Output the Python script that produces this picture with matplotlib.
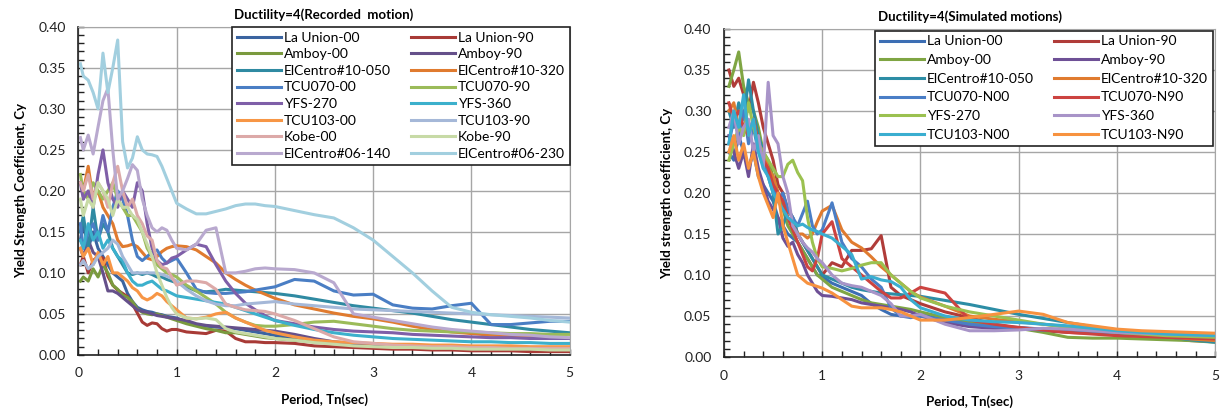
import matplotlib.pyplot as plt
from matplotlib.ticker import MultipleLocator, FormatStrFormatter

plt.rcParams['font.family'] = ['Lato', 'DejaVu Sans']

# periods (sec) for the recorded-motion curves
T_rec = [0.02, 0.05, 0.1, 0.15, 0.2, 0.25, 0.3, 0.35, 0.4, 0.45, 0.5, 0.55, 0.6, 0.65, 0.7,
         0.75, 0.8, 0.85, 0.9, 0.95, 1.0, 1.1, 1.2, 1.3, 1.4, 1.5, 1.6, 1.7, 1.8, 1.9, 2.0,
         2.2, 2.4, 2.6, 2.8, 3.0, 3.2, 3.4, 3.6, 3.8, 4.0, 4.2, 4.4, 4.6, 4.8, 5.0]

rec_names = ['La Union-00', 'La Union-90', 'Amboy-00', 'Amboy-90', 'ElCentro#10-050',
             'ElCentro#10-320', 'TCU070-00', 'TCU070-90', 'YFS-270', 'YFS-360',
             'TCU103-00', 'TCU103-90', 'Kobe-00', 'Kobe-90', 'ElCentro#06-140',
             'ElCentro#06-230']
rec_colors = ['#3B64A0', '#A83A36', '#7A9A3E', '#65508A', '#2F8AA2', '#E07B2F',
              '#4A7EC4', '#9BBB59', '#7F5FA8', '#3CB0CC', '#F79646', '#A5B8D8',
              '#DCA9A8', '#C7DAA6', '#B9A9CF', '#A2CFDF']

la_union_00 = [0.14, 0.16, 0.13, 0.15, 0.13, 0.12, 0.11, 0.10, 0.095, 0.09, 0.075, 0.065, 0.058, 0.055, 0.053,
               0.052, 0.05, 0.049, 0.047, 0.046, 0.045, 0.04, 0.037, 0.035, 0.034, 0.033, 0.032, 0.03, 0.028, 0.026, 0.024,
               0.02, 0.017, 0.015, 0.013, 0.012, 0.011, 0.011, 0.01, 0.01, 0.01, 0.009, 0.009, 0.009, 0.008, 0.008]
la_union_90 = [0.11, 0.12, 0.10, 0.115, 0.12, 0.118, 0.096, 0.085, 0.079, 0.075, 0.071, 0.062, 0.051, 0.04, 0.036,
               0.039, 0.038, 0.032, 0.029, 0.031, 0.031, 0.028, 0.027, 0.026, 0.03, 0.029, 0.02, 0.016, 0.016, 0.015, 0.015,
               0.014, 0.011, 0.01, 0.009, 0.008, 0.007, 0.007, 0.006, 0.006, 0.005, 0.005, 0.005, 0.004, 0.004, 0.004]
amboy_00 = [0.09, 0.095, 0.09, 0.105, 0.095, 0.11, 0.10, 0.085, 0.08, 0.073, 0.07, 0.065, 0.056, 0.052, 0.05,
            0.049, 0.05, 0.048, 0.046, 0.044, 0.042, 0.038, 0.035, 0.032, 0.03, 0.027, 0.027, 0.025, 0.023, 0.021, 0.02,
            0.018, 0.016, 0.014, 0.013, 0.012, 0.011, 0.011, 0.01, 0.01, 0.009, 0.009, 0.009, 0.008, 0.008, 0.008]
amboy_90 = [0.13, 0.12, 0.14, 0.125, 0.12, 0.10, 0.078, 0.078, 0.075, 0.07, 0.065, 0.06, 0.055, 0.053, 0.052,
            0.05, 0.048, 0.047, 0.046, 0.045, 0.044, 0.042, 0.038, 0.036, 0.035, 0.034, 0.033, 0.032, 0.031, 0.03, 0.029,
            0.025, 0.02, 0.016, 0.014, 0.013, 0.012, 0.011, 0.01, 0.01, 0.009, 0.009, 0.008, 0.008, 0.007, 0.007]
elc10_050 = [0.15, 0.17, 0.13, 0.18, 0.14, 0.16, 0.15, 0.13, 0.12, 0.11, 0.10, 0.098, 0.10, 0.098, 0.10,
             0.098, 0.095, 0.095, 0.092, 0.09, 0.088, 0.083, 0.078, 0.077, 0.078, 0.08, 0.079, 0.078, 0.077, 0.076, 0.075,
             0.072, 0.068, 0.064, 0.06, 0.057, 0.054, 0.051, 0.047, 0.043, 0.04, 0.037, 0.034, 0.031, 0.029, 0.027]
elc10_320 = [0.21, 0.20, 0.23, 0.19, 0.20, 0.18, 0.17, 0.16, 0.14, 0.132, 0.133, 0.135, 0.132, 0.125, 0.118,
             0.116, 0.12, 0.126, 0.13, 0.132, 0.133, 0.132, 0.128, 0.12, 0.112, 0.10, 0.092, 0.085, 0.079, 0.074, 0.069,
             0.061, 0.056, 0.051, 0.047, 0.044, 0.04, 0.035, 0.031, 0.028, 0.026, 0.024, 0.023, 0.022, 0.021, 0.02]
tcu070_00 = [0.16, 0.13, 0.15, 0.16, 0.14, 0.17, 0.15, 0.18, 0.20, 0.19, 0.17, 0.14, 0.12, 0.115, 0.12,
             0.125, 0.128, 0.118, 0.112, 0.115, 0.118, 0.10, 0.08, 0.076, 0.075, 0.075, 0.076, 0.077, 0.079, 0.081, 0.083,
             0.092, 0.09, 0.078, 0.073, 0.074, 0.061, 0.057, 0.056, 0.06, 0.063, 0.037, 0.037, 0.039, 0.041, 0.041]
tcu070_90 = [0.22, 0.20, 0.19, 0.21, 0.20, 0.19, 0.20, 0.21, 0.19, 0.18, 0.17, 0.17, 0.16, 0.15, 0.13,
             0.12, 0.11, 0.105, 0.10, 0.098, 0.095, 0.085, 0.078, 0.07, 0.062, 0.052, 0.045, 0.04, 0.036, 0.035, 0.035,
             0.037, 0.04, 0.041, 0.038, 0.035, 0.032, 0.03, 0.029, 0.028, 0.028, 0.027, 0.026, 0.026, 0.025, 0.025]
yfs_270 = [0.21, 0.19, 0.20, 0.18, 0.22, 0.25, 0.21, 0.19, 0.18, 0.20, 0.19, 0.18, 0.21, 0.20, 0.16,
           0.13, 0.115, 0.11, 0.112, 0.118, 0.12, 0.128, 0.135, 0.132, 0.11, 0.09, 0.075, 0.063, 0.055, 0.048, 0.042,
           0.038, 0.034, 0.031, 0.029, 0.028, 0.027, 0.025, 0.024, 0.023, 0.022, 0.021, 0.021, 0.02, 0.02, 0.02]
yfs_360 = [0.14, 0.13, 0.16, 0.14, 0.15, 0.13, 0.14, 0.13, 0.12, 0.115, 0.10, 0.09, 0.085, 0.085, 0.088,
           0.09, 0.085, 0.08, 0.078, 0.075, 0.072, 0.07, 0.068, 0.066, 0.064, 0.062, 0.058, 0.054, 0.05, 0.046, 0.042,
           0.036, 0.031, 0.027, 0.024, 0.022, 0.02, 0.019, 0.018, 0.017, 0.016, 0.016, 0.015, 0.015, 0.014, 0.014]
tcu103_00 = [0.13, 0.12, 0.13, 0.11, 0.125, 0.11, 0.12, 0.10, 0.10, 0.095, 0.09, 0.082, 0.078, 0.07, 0.067,
             0.07, 0.075, 0.072, 0.065, 0.06, 0.055, 0.045, 0.044, 0.046, 0.05, 0.052, 0.045, 0.04, 0.035, 0.03, 0.027,
             0.022, 0.018, 0.016, 0.015, 0.014, 0.013, 0.013, 0.012, 0.012, 0.011, 0.011, 0.011, 0.01, 0.01, 0.01]
tcu103_90 = [0.11, 0.115, 0.105, 0.11, 0.12, 0.125, 0.13, 0.14, 0.135, 0.12, 0.11, 0.10, 0.10, 0.10, 0.10,
             0.10, 0.10, 0.098, 0.096, 0.093, 0.09, 0.08, 0.072, 0.066, 0.062, 0.06, 0.06, 0.062, 0.063, 0.064, 0.065,
             0.062, 0.06, 0.058, 0.056, 0.055, 0.054, 0.053, 0.052, 0.051, 0.05, 0.049, 0.048, 0.047, 0.046, 0.045]
kobe_00 = [0.21, 0.20, 0.22, 0.19, 0.21, 0.20, 0.18, 0.21, 0.23, 0.20, 0.18, 0.19, 0.17, 0.16, 0.145,
           0.14, 0.115, 0.107, 0.105, 0.095, 0.085, 0.09, 0.09, 0.088, 0.08, 0.062, 0.058, 0.055, 0.054, 0.053, 0.05,
           0.042, 0.032, 0.022, 0.016, 0.014, 0.012, 0.011, 0.01, 0.01, 0.009, 0.009, 0.008, 0.008, 0.008, 0.008]
kobe_90 = [0.19, 0.17, 0.19, 0.18, 0.21, 0.20, 0.19, 0.17, 0.19, 0.18, 0.18, 0.17, 0.165, 0.15, 0.135,
           0.12, 0.10, 0.085, 0.07, 0.058, 0.05, 0.045, 0.044, 0.045, 0.043, 0.032, 0.028, 0.026, 0.024, 0.022, 0.02,
           0.018, 0.015, 0.013, 0.011, 0.01, 0.009, 0.009, 0.008, 0.008, 0.007, 0.007, 0.007, 0.007, 0.006, 0.006]
elc06_140 = [0.265, 0.25, 0.268, 0.245, 0.278, 0.31, 0.325, 0.25, 0.19, 0.20, 0.215, 0.232, 0.225, 0.19, 0.17,
             0.155, 0.15, 0.155, 0.152, 0.14, 0.13, 0.128, 0.135, 0.152, 0.155, 0.10, 0.10, 0.102, 0.105, 0.106, 0.105,
             0.104, 0.10, 0.088, 0.05, 0.046, 0.042, 0.038, 0.034, 0.031, 0.029, 0.027, 0.025, 0.024, 0.022, 0.021]
elc06_230 = [0.355, 0.34, 0.335, 0.32, 0.30, 0.368, 0.32, 0.35, 0.384, 0.26, 0.228, 0.24, 0.266, 0.25, 0.245,
             0.244, 0.242, 0.23, 0.215, 0.20, 0.185, 0.178, 0.172, 0.172, 0.175, 0.178, 0.182, 0.184, 0.184, 0.182, 0.181,
             0.176, 0.171, 0.167, 0.155, 0.14, 0.12, 0.10, 0.078, 0.058, 0.052, 0.049, 0.047, 0.045, 0.042, 0.04]

rec_values = [la_union_00, la_union_90, amboy_00, amboy_90, elc10_050, elc10_320, tcu070_00,
              tcu070_90, yfs_270, yfs_360, tcu103_00, tcu103_90, kobe_00, kobe_90, elc06_140, elc06_230]

# periods (sec) for the simulated-motion curves
T_sim = [0.05, 0.1, 0.15, 0.2, 0.25, 0.3, 0.35, 0.4, 0.45, 0.5, 0.55, 0.6, 0.65, 0.7, 0.75,
         0.8, 0.85, 0.9, 0.95, 1.0, 1.1, 1.2, 1.3, 1.4, 1.5, 1.6, 1.7, 1.8, 1.9, 2.0,
         2.25, 2.5, 2.75, 3.0, 3.25, 3.5, 3.75, 4.0, 4.25, 4.5, 4.75, 5.0]

sim_names = ['La Union-00', 'La Union-90', 'Amboy-00', 'Amboy-90', 'ElCentro#10-050',
             'ElCentro#10-320', 'TCU070-N00', 'TCU070-N90', 'YFS-270', 'YFS-360',
             'TCU103-N00', 'TCU103-N90']
sim_colors = ['#3C6EB4', '#B03C39', '#7FA543', '#6E5096', '#2C8DA5', '#E07B2F',
              '#4A7EC6', '#CC4340', '#9BC150', '#A894C8', '#3AAED0', '#F7923F']

s_la_union_00 = [0.25, 0.24, 0.27, 0.25, 0.23, 0.25, 0.22, 0.21, 0.20, 0.19, 0.17, 0.16, 0.15, 0.145, 0.14,
                 0.13, 0.12, 0.11, 0.10, 0.098, 0.09, 0.085, 0.08, 0.075, 0.065, 0.058, 0.052, 0.05, 0.05, 0.052,
                 0.045, 0.04, 0.038, 0.036, 0.034, 0.033, 0.031, 0.03, 0.029, 0.028, 0.028, 0.027]
s_la_union_90 = [0.35, 0.33, 0.34, 0.32, 0.30, 0.335, 0.31, 0.28, 0.26, 0.24, 0.21, 0.20, 0.18, 0.17, 0.15,
                 0.14, 0.13, 0.12, 0.11, 0.10, 0.115, 0.11, 0.13, 0.13, 0.132, 0.148, 0.085, 0.075, 0.07, 0.065,
                 0.055, 0.048, 0.04, 0.035, 0.032, 0.03, 0.029, 0.028, 0.026, 0.024, 0.02, 0.019]
s_amboy_00 = [0.33, 0.35, 0.372, 0.33, 0.31, 0.30, 0.28, 0.25, 0.24, 0.22, 0.20, 0.18, 0.16, 0.15, 0.14,
              0.13, 0.12, 0.11, 0.10, 0.095, 0.085, 0.08, 0.075, 0.07, 0.066, 0.064, 0.062, 0.06, 0.058, 0.055,
              0.048, 0.043, 0.038, 0.035, 0.03, 0.024, 0.023, 0.023, 0.022, 0.021, 0.02, 0.018]
s_amboy_90 = [0.27, 0.25, 0.23, 0.25, 0.22, 0.26, 0.23, 0.21, 0.19, 0.18, 0.17, 0.145, 0.135, 0.14, 0.125,
              0.115, 0.10, 0.09, 0.08, 0.075, 0.074, 0.072, 0.07, 0.066, 0.064, 0.062, 0.06, 0.058, 0.055, 0.05,
              0.042, 0.037, 0.035, 0.034, 0.033, 0.032, 0.031, 0.03, 0.029, 0.028, 0.028, 0.027]
s_elc10_050 = [0.30, 0.28, 0.31, 0.29, 0.338, 0.30, 0.27, 0.25, 0.22, 0.20, 0.15, 0.16, 0.18, 0.17, 0.15,
               0.14, 0.13, 0.12, 0.11, 0.10, 0.095, 0.09, 0.085, 0.082, 0.08, 0.078, 0.077, 0.076, 0.075, 0.074,
               0.069, 0.064, 0.058, 0.052, 0.047, 0.042, 0.037, 0.033, 0.029, 0.025, 0.021, 0.018]
s_elc10_320 = [0.30, 0.31, 0.28, 0.30, 0.27, 0.29, 0.26, 0.25, 0.23, 0.22, 0.20, 0.19, 0.17, 0.16, 0.15,
               0.15, 0.145, 0.15, 0.165, 0.178, 0.185, 0.155, 0.14, 0.133, 0.122, 0.11, 0.10, 0.09, 0.08, 0.073,
               0.062, 0.05, 0.046, 0.043, 0.04, 0.037, 0.034, 0.031, 0.028, 0.025, 0.022, 0.02]
s_tcu070_n00 = [0.26, 0.29, 0.27, 0.30, 0.26, 0.28, 0.25, 0.24, 0.22, 0.21, 0.19, 0.20, 0.18, 0.17, 0.16,
                0.175, 0.19, 0.16, 0.15, 0.155, 0.188, 0.14, 0.12, 0.11, 0.095, 0.085, 0.06, 0.05, 0.048, 0.05,
                0.045, 0.04, 0.037, 0.035, 0.033, 0.031, 0.03, 0.029, 0.028, 0.028, 0.027, 0.027]
s_tcu070_n90 = [0.31, 0.29, 0.30, 0.28, 0.27, 0.29, 0.26, 0.24, 0.23, 0.21, 0.20, 0.19, 0.17, 0.155, 0.14,
                0.125, 0.11, 0.105, 0.12, 0.15, 0.165, 0.12, 0.11, 0.10, 0.09, 0.08, 0.072, 0.072, 0.078, 0.085,
                0.078, 0.045, 0.04, 0.036, 0.033, 0.03, 0.028, 0.026, 0.025, 0.024, 0.023, 0.022]
s_yfs_270 = [0.24, 0.26, 0.28, 0.27, 0.31, 0.28, 0.26, 0.25, 0.24, 0.23, 0.22, 0.22, 0.235, 0.24, 0.225,
             0.215, 0.17, 0.14, 0.12, 0.11, 0.108, 0.105, 0.108, 0.112, 0.115, 0.115, 0.10, 0.09, 0.08, 0.072,
             0.062, 0.055, 0.05, 0.045, 0.04, 0.036, 0.033, 0.03, 0.028, 0.026, 0.025, 0.024]
s_yfs_360 = [0.28, 0.30, 0.26, 0.28, 0.29, 0.25, 0.27, 0.23, 0.335, 0.27, 0.26, 0.22, 0.20, 0.16, 0.15,
             0.14, 0.133, 0.128, 0.12, 0.115, 0.10, 0.09, 0.087, 0.085, 0.08, 0.075, 0.065, 0.05, 0.05, 0.052,
             0.04, 0.032, 0.032, 0.033, 0.035, 0.034, 0.032, 0.03, 0.029, 0.028, 0.027, 0.026]
s_tcu103_n00 = [0.26, 0.30, 0.28, 0.32, 0.27, 0.29, 0.25, 0.23, 0.22, 0.20, 0.19, 0.18, 0.17, 0.165, 0.16,
                0.162, 0.158, 0.155, 0.153, 0.15, 0.145, 0.135, 0.125, 0.095, 0.098, 0.094, 0.092, 0.085, 0.07, 0.06,
                0.05, 0.045, 0.043, 0.042, 0.04, 0.038, 0.035, 0.032, 0.03, 0.028, 0.027, 0.026]
s_tcu103_n90 = [0.25, 0.27, 0.24, 0.26, 0.23, 0.25, 0.22, 0.20, 0.185, 0.17, 0.20, 0.16, 0.14, 0.12, 0.10,
                0.095, 0.09, 0.088, 0.086, 0.084, 0.078, 0.07, 0.062, 0.06, 0.06, 0.06, 0.058, 0.055, 0.05, 0.045,
                0.045, 0.048, 0.052, 0.056, 0.052, 0.042, 0.038, 0.034, 0.032, 0.031, 0.03, 0.029]

sim_values = [s_la_union_00, s_la_union_90, s_amboy_00, s_amboy_90, s_elc10_050, s_elc10_320,
              s_tcu070_n00, s_tcu070_n90, s_yfs_270, s_yfs_360, s_tcu103_n00, s_tcu103_n90]


def style_axes(ax, title, ylabel):
    ax.set_xlim(0, 5)
    ax.set_ylim(0, 0.4)
    ax.xaxis.set_major_locator(MultipleLocator(1))
    ax.xaxis.set_minor_locator(MultipleLocator(0.2))
    ax.yaxis.set_major_locator(MultipleLocator(0.05))
    ax.yaxis.set_minor_locator(MultipleLocator(0.01))
    ax.yaxis.set_major_formatter(FormatStrFormatter('%.2f'))
    ax.tick_params(which='both', direction='in', length=4, width=1, colors='#222222',
                   labelsize=10, pad=9)
    ax.grid(True, which='major', color='#A6A6A6', lw=1)
    ax.set_axisbelow(True)
    for s in ['top', 'right']:
        ax.spines[s].set_color('#A6A6A6')
    for s in ['left', 'bottom']:
        ax.spines[s].set_color('#222222')
        ax.spines[s].set_linewidth(1.2)
    ax.set_title(title, fontsize=9.5, fontweight='bold', pad=6)
    ax.set_xlabel('Period, Tn(sec)', fontsize=9.5, fontweight='bold', labelpad=10)
    ax.set_ylabel(ylabel, fontsize=9.5, fontweight='bold', labelpad=8)


fig = plt.figure(figsize=(12.25, 4.2), dpi=100)
ax1 = fig.add_axes([0.064, 0.155, 0.401, 0.781])
ax2 = fig.add_axes([0.591, 0.150, 0.401, 0.781])

for name, vals, c in zip(rec_names, rec_values, rec_colors):
    ax1.plot(T_rec, vals, color=c, lw=2.2, label=name)
for name, vals, c in zip(sim_names, sim_values, sim_colors):
    ax2.plot(T_sim, vals, color=c, lw=2.2, label=name)

style_axes(ax1, 'Ductility=4(Recorded  motion)', 'Yield Strength Coefficient, Cy')
style_axes(ax2, 'Ductility=4(Simulated motions)', 'Yield strength coefficient, Cy')

for ax, anchor, sp in ((ax1, (1.0, 1.0), 0.33), (ax2, (0.995, 0.995), 0.48)):
    # Excel fills the legend row by row
    h, l = ax.get_legend_handles_labels()
    h = h[0::2] + h[1::2]
    l = l[0::2] + l[1::2]
    leg = ax.legend(h, l, loc='upper right', ncol=2, fontsize=10, handlelength=3.2,
                    labelspacing=sp, columnspacing=1.4, handletextpad=0.2,
                    borderpad=0.35, borderaxespad=0.0, fancybox=False, framealpha=1,
                    bbox_to_anchor=anchor)
    leg.get_frame().set_edgecolor('#222222')
    leg.get_frame().set_linewidth(1.2)

fig.savefig('out.png', dpi=100)
